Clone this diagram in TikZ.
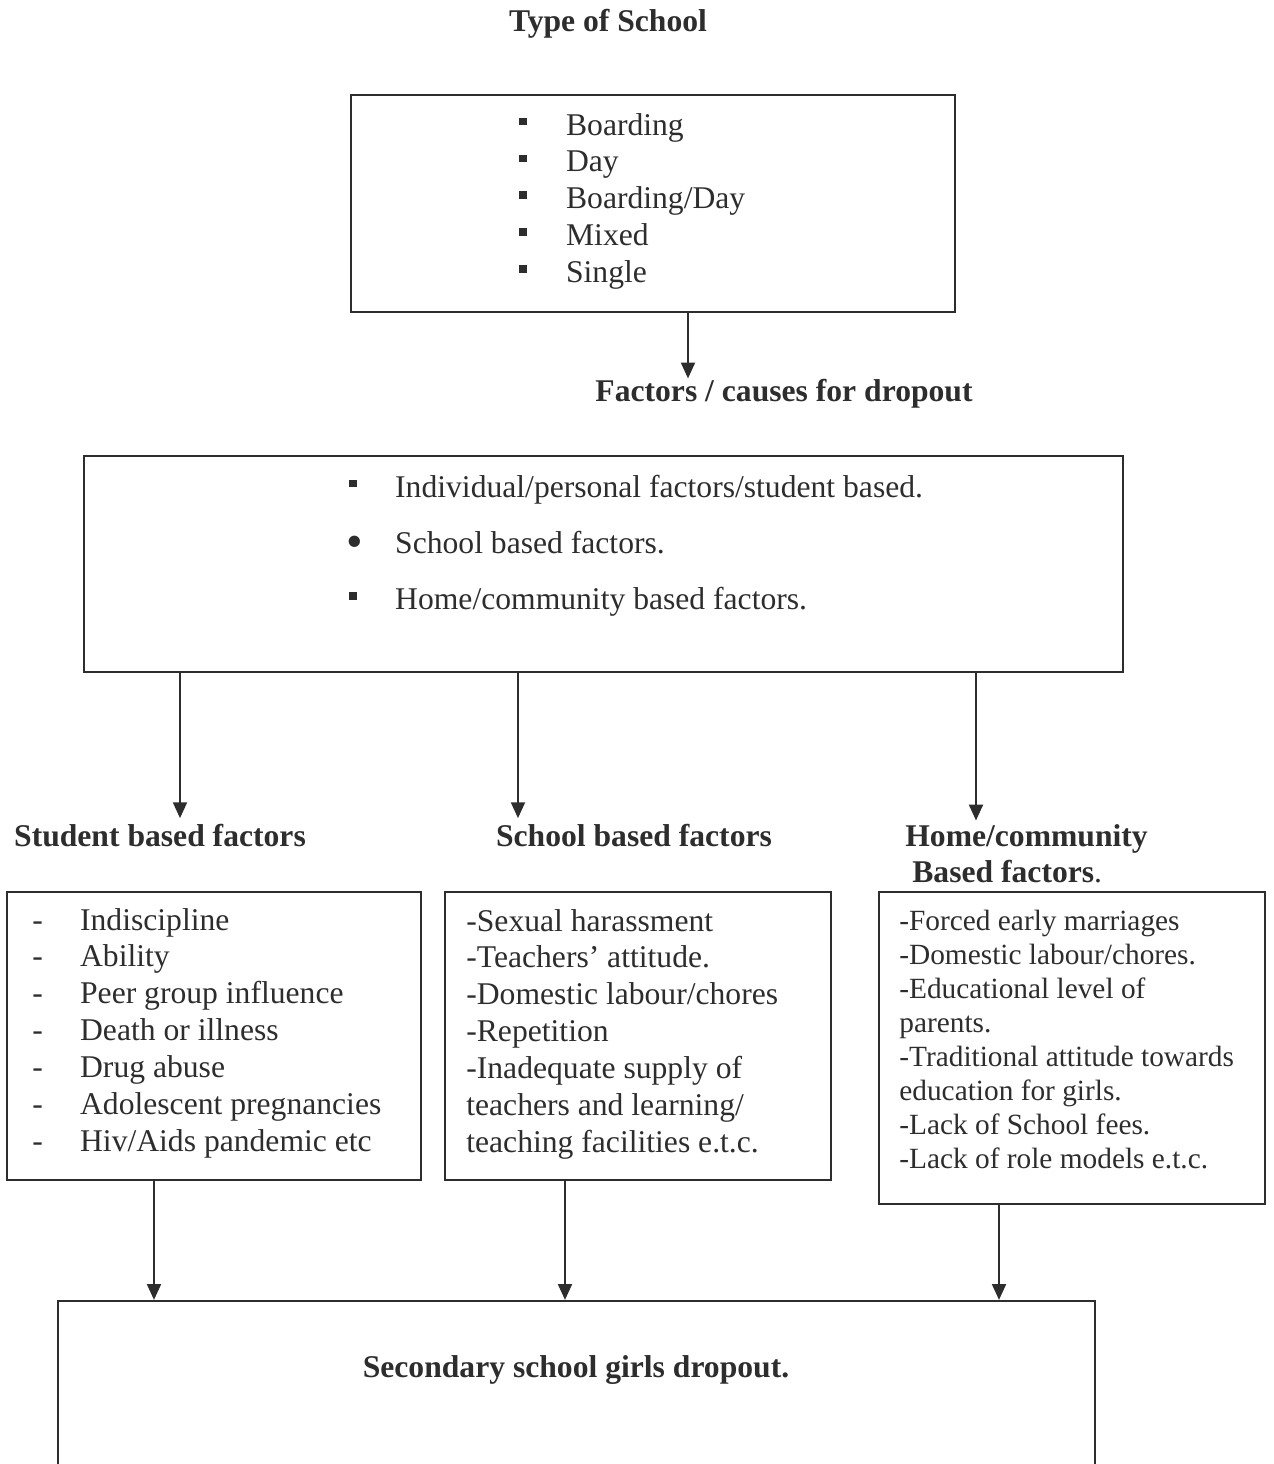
\documentclass[tikz,border=0pt]{standalone}
\usepackage{fontspec}
\setmainfont{Liberation Serif}
\usetikzlibrary{arrows.meta,fit}

\definecolor{ink}{RGB}{45,45,45}
\newcommand{\sqbul}{\rule[0.31em]{0.24em}{0.24em}}
\newcommand{\dotbul}{\raisebox{-0.13em}{\scalebox{1.5}{•}}}

\tikzset{
	box/.style={draw=ink, line width=1.3pt, inner sep=0pt},
	txt/.style={anchor=base west, inner sep=0pt, text=ink},
	head/.style={anchor=base, inner sep=0pt, text=ink, font=\fontsize{18}{21}\selectfont\bfseries},
	arr/.style={draw=ink, line width=1pt, -{Triangle[length=9pt,width=8pt]}}
}

\begin{document}
\begin{tikzpicture}[x=0.02cm, y=-0.02cm, font=\fontsize{18}{21}\selectfont]

		\useasboundingbox (0,0) rectangle (1274,1464);
		\clip (0,0) rectangle (1274,1464);

		% columns of the arrows
		\coordinate (x0) at (688,0);
		\coordinate (x1) at (180,0);
		\coordinate (x2) at (518,0);
		\coordinate (x3) at (976,0);
		\coordinate (x4) at (154,0);
		\coordinate (x5) at (565,0);
		\coordinate (x6) at (999,0);

		\node[head] (title) at (608,31) {Type of School};

		\node[box, fit={(351,95) (955,312)}] (type) {};
		\node[txt] (typelist) at (519,135) {\begin{tabular}[t]{@{}l@{}}
			\makebox[26.6pt][l]{\sqbul}Boarding\\
			\makebox[26.6pt][l]{\sqbul}Day\\
			\makebox[26.6pt][l]{\sqbul}Boarding/Day\\
			\makebox[26.6pt][l]{\sqbul}Mixed\\
			\makebox[26.6pt][l]{\sqbul}Single
		\end{tabular}};

		\node[head] (factlbl) at (784,401) {Factors / causes for dropout};

		\node[box, fit={(84,456) (1123,672)}] (fact) {};
		\node[txt, font=\fontsize{18}{32}\selectfont] (factlist) at (349,497) {\begin{tabular}[t]{@{}l@{}}
			\makebox[26.1pt][l]{\sqbul}Individual/personal factors/student based.\\
			\makebox[26.1pt][l]{\hspace{-1.5pt}\dotbul}School based factors.\\
			\makebox[26.1pt][l]{\sqbul}Home/community based factors.
		\end{tabular}};

		\node[head] (stulbl) at (160,846) {Student based factors};
		\node[head] (schlbl) at (634,846) {School based factors};
		\node[txt, font=\fontsize{18}{20.5}\selectfont\bfseries] (homelbl) at (905,846) {\begin{tabular}[t]{@{}l@{}}
			Home/community\\
			\hspace{4pt}Based factors\textmd{.}
		\end{tabular}};

		\node[box, fit={(7,892) (421,1180)}] (stu) {};
		\node[txt] (stulist) at (32,930) {\begin{tabular}[t]{@{}l@{}}
			\makebox[27.2pt][l]{-}Indiscipline\\
			\makebox[27.2pt][l]{-}Ability\\
			\makebox[27.2pt][l]{-}Peer group influence\\
			\makebox[27.2pt][l]{-}Death or illness\\
			\makebox[27.2pt][l]{-}Drug abuse\\
			\makebox[27.2pt][l]{-}Adolescent pregnancies\\
			\makebox[27.2pt][l]{-}Hiv/Aids pandemic etc
		\end{tabular}};

		\node[box, fit={(445,892) (831,1180)}] (sch) {};
		\node[txt] (schlist) at (466,931) {\begin{tabular}[t]{@{}l@{}}
			-Sexual harassment\\
			-Teachers’ attitude.\\
			-Domestic labour/chores\\
			-Repetition\\
			-Inadequate supply of\\
			teachers and learning/\\
			teaching facilities e.t.c.
		\end{tabular}};

		\node[box, fit={(879,892) (1265,1204)}] (home) {};
		\node[txt, font=\fontsize{16.7}{19.4}\selectfont] (homelist) at (899,930) {\begin{tabular}[t]{@{}l@{}}
			-Forced early marriages\\
			-Domestic labour/chores.\\
			-Educational level of\\
			parents.\\
			-Traditional attitude towards\\
			education for girls.\\
			-Lack of School fees.\\
			-Lack of role models e.t.c.
		\end{tabular}};

		\node[box, fit={(58,1301) (1095,1520)}] (drop) {};
		\node[head] (droplbl) at (576,1377) {Secondary school girls dropout.};

		\draw[arr] (type.south -| x0) -- (factlbl.north -| x0);

		\draw[arr, shorten >=3pt] (fact.south -| x1) -- (stulbl.north -| x1);
		\draw[arr, shorten >=3pt] (fact.south -| x2) -- (schlbl.north -| x2);
		\draw[arr] (fact.south -| x3) -- (homelbl.north -| x3);

		\draw[arr] (stu.south -| x4) -- (drop.north -| x4);
		\draw[arr] (sch.south -| x5) -- (drop.north -| x5);
		\draw[arr] (home.south -| x6) -- (drop.north -| x6);

	\end{tikzpicture}
\end{document}
